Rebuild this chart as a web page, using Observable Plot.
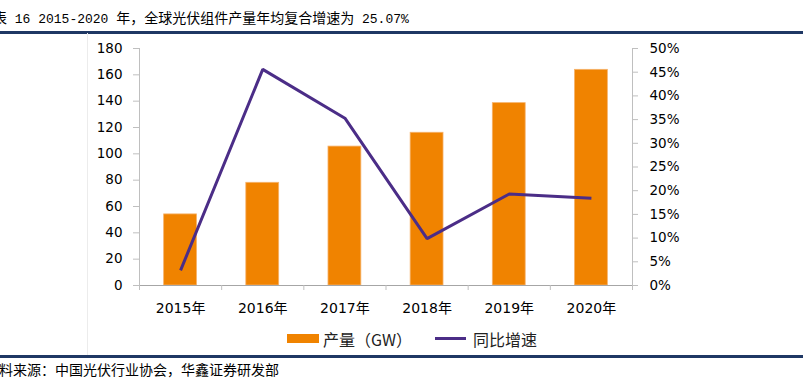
<!DOCTYPE html>
<html>
<head>
<meta charset="utf-8">
<script src="https://cdn.jsdelivr.net/npm/d3@7"></script>
<script src="https://cdn.jsdelivr.net/npm/@observablehq/plot@0.6"></script>
<style>
  html, body { margin: 0; padding: 0; background: #fff; }
  #wrap { position: relative; width: 809px; height: 389px; overflow: hidden; background: #fff; }
  .abs { position: absolute; white-space: nowrap; }
  #title { left: -7px; top: 9px; font: 14px/16px "Noto Sans CJK SC", sans-serif; color: #000; }
  #title .lat { font-family: "Liberation Mono", monospace; font-size: 13px; }
  #caption { left: -15px; top: 361px; font: 14px/16px "Noto Sans CJK SC", sans-serif; color: #000; }
  .rule { position: absolute; left: 0; width: 803px; height: 2.5px; background: #1f3864; }
  .leg { font: 16px/16px "Noto Sans CJK SC", sans-serif; color: #222; }
</style>
</head>
<body>
<div id="wrap">
  <div id="title" class="abs">表<span class="lat"> 16 2015-2020 </span>年，全球光伏组件产量年均复合增速为<span class="lat"> 25.07%</span></div>
  <div class="rule" style="top:31px"></div>
  <div class="abs" style="left:87px; top:33px; width:1px; height:322px; background:#ececec"></div>
  <div id="chart" class="abs" style="left:0; top:0"></div>
  <div class="abs" style="left:287px; top:333.5px; width:32px; height:9.5px; background:#f08300"></div>
  <div class="abs leg" style="left:323px; top:331px">产量（GW）</div>
  <div class="abs" style="left:435px; top:337px; width:31px; height:3px; background:#4b2d87"></div>
  <div class="abs leg" style="left:473px; top:331px">同比增速</div>
  <div class="rule" style="top:355px"></div>
  <div id="caption" class="abs">资料来源：中国光伏行业协会，华鑫证券研发部</div>
</div>
<script>
// ---- data ----
const years = ["2015年", "2016年", "2017年", "2018年", "2019年", "2020年"];
const output = [54.0, 78.0, 105.5, 116.0, 138.5, 163.8];      // 产量（GW）
const growth = [3.2, 45.6, 35.3, 9.9, 19.3, 18.4];             // 同比增速 (%)
const leftTicks = [0, 20, 40, 60, 80, 100, 120, 140, 160, 180];
const rightTicks = [0, 5, 10, 15, 20, 25, 30, 35, 40, 45, 50];

const leftMax = 180, rightMax = 50;
const ratio = leftMax / rightMax;

const rows = years.map((y, i) => ({i, year: y, v: output[i], g: growth[i]}));
const bounds = d3.range(-0.5, years.length, 1);

const gray = "#bfbfbf";
const font = "DejaVu Sans, Noto Sans CJK SC, sans-serif";

const chart = Plot.plot({
  width: 809,
  height: 330,
  marginLeft: 139,
  marginRight: 177,
  marginTop: 48,
  marginBottom: 45,
  style: {fontFamily: font, fontSize: "13.5px", color: "#000", background: "transparent"},
  x: {domain: [-0.5, years.length - 0.5], axis: null},
  y: {domain: [0, leftMax], axis: null},
  marks: [
    Plot.rectY(rows, {x1: d => d.i - 0.2, x2: d => d.i + 0.2, y: "v", fill: "#f08300", stroke: "#f6b26b", strokeWidth: 0.8}),
    Plot.ruleX([-0.5], {y1: 0, y2: leftMax, stroke: gray}),
    Plot.ruleX([years.length - 0.5], {y1: 0, y2: leftMax, stroke: gray}),
    Plot.ruleY([0], {stroke: "#a6a6a6"}),
    Plot.line(rows, {x: "i", y: d => d.g * ratio, stroke: "#4b2d87", strokeWidth: 3, strokeLinejoin: "miter", strokeLinecap: "butt"}),
    Plot.axisY(leftTicks, {anchor: "left", tickSize: 6, tickPadding: 11, stroke: gray, fill: "#000", label: null, fontSize: 13.5}),
    Plot.axisY(rightTicks.map(p => p * ratio), {anchor: "right", tickSize: 5, tickPadding: 12, stroke: gray, fill: "#000", label: null, fontSize: 13.5,
      tickFormat: d => Math.round(d / ratio) + "%"}),
    Plot.axisX(bounds, {anchor: "bottom", tickSize: 5, stroke: gray, tickFormat: () => "", label: null}),
    Plot.axisX(d3.range(years.length), {anchor: "bottom", tickSize: 0, tickPadding: 18, fill: "#000", label: null, fontSize: 14,
      tickFormat: i => years[i]})
  ]
});
document.getElementById("chart").appendChild(chart);
</script>
</body>
</html>
